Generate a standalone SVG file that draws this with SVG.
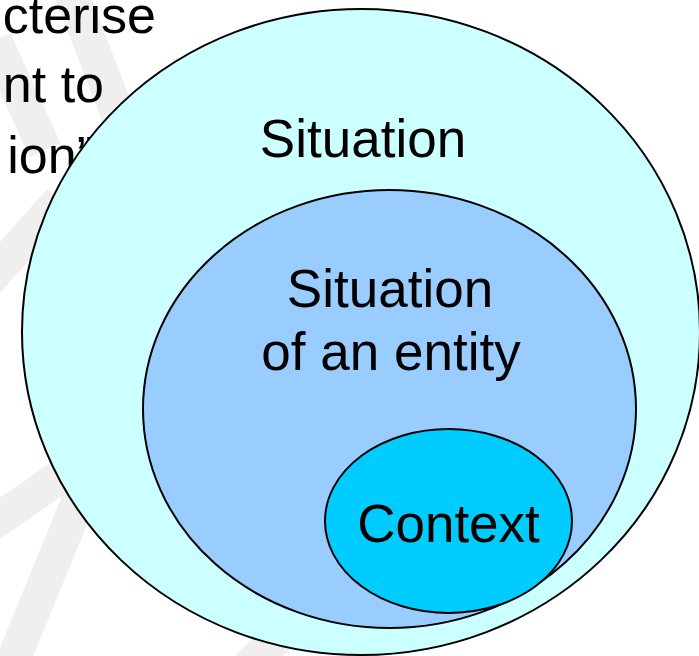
<svg xmlns="http://www.w3.org/2000/svg" width="699" height="656" viewBox="0 0 699 656">
  <style>
    .lbl { font-family: "Liberation Sans", Arial, sans-serif; font-size: 53px; fill: #000; text-anchor: middle; }
    .side { font-family: "Liberation Sans", Arial, sans-serif; font-size: 52px; fill: #000; text-anchor: end; }
    .ring { stroke: #000; stroke-width: 2; }
    .mark { stroke: #f0efed; stroke-width: 34; fill: none; stroke-linecap: butt; }
  </style>
  <rect width="699" height="656" fill="#fff"/>

  <!-- faint background emblem -->
  <g id="emblem">
    <line class="mark" x1="70" y1="-10" x2="118" y2="115"/>
    <line class="mark" x1="-5" y1="40" x2="45" y2="150"/>
    <line class="mark" x1="-20" y1="290" x2="60" y2="200"/>
    <line class="mark" x1="-10" y1="525" x2="70" y2="470"/>
    <line class="mark" x1="5" y1="680" x2="85" y2="485"/>
    <line class="mark" x1="230" y1="685" x2="295" y2="620"/>
  </g>

  <!-- slide text partly hidden behind the diagram -->
  <g id="side-text">
    <text class="side" x="156" y="33">cterise</text>
    <text class="side" x="104" y="102">nt to</text>
    <text class="side" x="94" y="173">ion”</text>
  </g>

  <g id="situation">
    <ellipse class="ring" cx="361" cy="332" rx="339" ry="323" fill="#ccffff"/>
    <text class="lbl" x="363" y="157">Situation</text>
  </g>

  <g id="situation-of-entity">
    <ellipse class="ring" cx="389.5" cy="409" rx="246.5" ry="219" fill="#99ccff"/>
    <text class="lbl" x="390" y="307">Situation</text>
    <text class="lbl" x="391" y="370">of an entity</text>
  </g>

  <g id="context">
    <ellipse class="ring" cx="448.5" cy="521" rx="123.5" ry="92" fill="#00ccff"/>
    <text class="lbl" x="448.5" y="542">Context</text>
  </g>

  <g id="connectors"/>
</svg>
